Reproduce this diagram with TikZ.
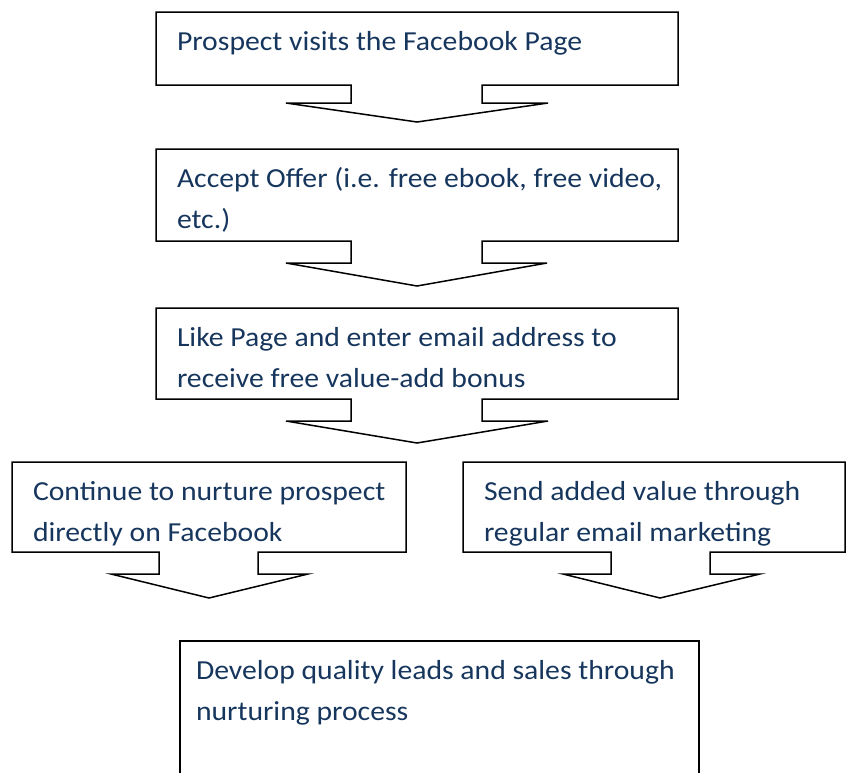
\documentclass[tikz,border=0pt]{standalone}
\usepackage{fontspec}
\setmainfont[FakeStretch=1.08]{Carlito}
\definecolor{navy}{RGB}{23,54,93}
\tikzset{
  callout/.style={draw=black, line width=1.5pt, line join=miter},
  lbl/.style={anchor=base west, inner sep=0pt, outer sep=0pt, text=navy, font=\fontsize{27.5}{41}\selectfont}
}
\begin{document}
\begin{tikzpicture}[x=1pt,y=-1pt]
\useasboundingbox (0,0) rectangle (846,772);
% box 1
\draw[callout] (156,12) -- (678,12) -- (678,85) -- (482,85) -- (482,103) -- (548,103) -- (417,122) -- (286,103) -- (351,103) -- (351,85) -- (156,85) -- cycle;
\node[lbl] (t1) at (177,50) {Prospect visits the Facebook Page};
% box 2
\draw[callout] (156,149) -- (678,149) -- (678,241) -- (482,241) -- (482,263) -- (547,263) -- (417,286) -- (286,263) -- (351,263) -- (351,241) -- (156,241) -- cycle;
\node[lbl] (t2a) at (177,187) {Accept Offer (i.e. free ebook, free video,};
\node[lbl] (t2b) at (177,228) {etc.)};
% box 3
\draw[callout] (156,308) -- (678,308) -- (678,399) -- (482,399) -- (482,421) -- (548,421) -- (417,443) -- (286,421) -- (351,421) -- (351,399) -- (156,399) -- cycle;
\node[lbl] (t3a) at (177,346) {Like Page and enter email address to};
\node[lbl] (t3b) at (177,387) {receive free value-add bonus};
% box 4
\draw[callout] (12,462) -- (406,462) -- (406,552) -- (258,552) -- (258,574) -- (308,574) -- (209,598) -- (111,574) -- (159,574) -- (159,552) -- (12,552) -- cycle;
\node[lbl] (t4a) at (33,500) {Continue to nurture prospect};
\node[lbl] (t4b) at (33,541) {directly on Facebook};
% box 5
\draw[callout] (463,462) -- (845,462) -- (845,552) -- (710,552) -- (710,574) -- (760,574) -- (660,598) -- (563,574) -- (611,574) -- (611,552) -- (463,552) -- cycle;
\node[lbl] (t5a) at (484,500) {Send added value through};
\node[lbl] (t5b) at (484,541) {regular email marketing};
% box 6
\draw[callout] (180,780) -- (180,641) -- (699,641) -- (699,780);
\node[lbl] (t6a) at (196,679) {Develop quality leads and sales through};
\node[lbl] (t6b) at (196,720) {nurturing process};
\end{tikzpicture}
\end{document}
